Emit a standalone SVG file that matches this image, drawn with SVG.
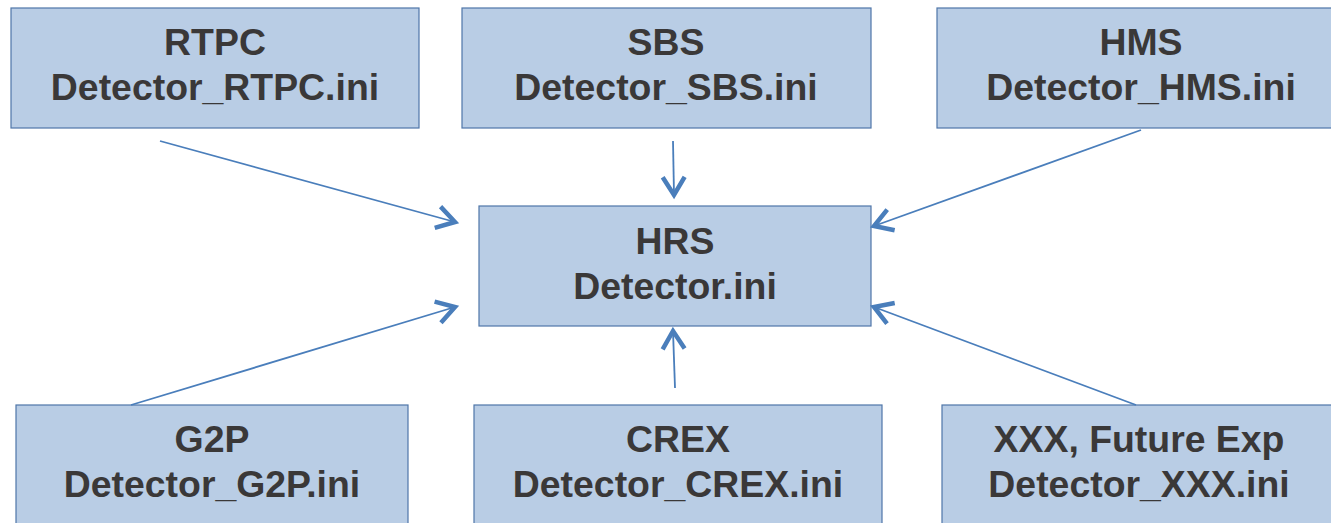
<svg xmlns="http://www.w3.org/2000/svg" width="1331" height="523" viewBox="0 0 1331 523">
<defs>
<style>
.box{fill:#b9cde5;stroke:#4f76a8;stroke-width:1.2}
.t{font-family:"Liberation Sans",Arial,sans-serif;font-weight:bold;font-size:37.4px;fill:#3a3838;text-anchor:middle}
.c{stroke:#4a7ebb;stroke-width:1.8;fill:none;marker-end:url(#ah)}
</style>
<marker id="ah" markerUnits="userSpaceOnUse" markerWidth="30" markerHeight="30" refX="0" refY="0" viewBox="-24 -15 28 30" orient="auto" overflow="visible">
<path d="M-18,-11 L0,0 L-18,11" fill="none" stroke="#4a7ebb" stroke-width="4.5"/>
</marker>
</defs>
<rect width="1331" height="523" fill="#fff"/>
<g id="rtpc"><rect class="box" x="11" y="8" width="408" height="120"/><text class="t" x="215" y="55">RTPC</text><text class="t" x="215" y="100">Detector_RTPC.ini</text></g>
<g id="sbs"><rect class="box" x="462" y="8" width="409" height="120"/><text class="t" x="666" y="55">SBS</text><text class="t" x="666" y="100">Detector_SBS.ini</text></g>
<g id="hms"><rect class="box" x="937" y="8" width="408" height="120"/><text class="t" x="1141" y="55">HMS</text><text class="t" x="1141" y="100">Detector_HMS.ini</text></g>
<g id="hrs"><rect class="box" x="479" y="206" width="392" height="120"/><text class="t" x="675" y="254">HRS</text><text class="t" x="675" y="299">Detector.ini</text></g>
<g id="g2p"><rect class="box" x="16" y="405" width="392" height="125"/><text class="t" x="212" y="452">G2P</text><text class="t" x="212" y="497">Detector_G2P.ini</text></g>
<g id="crex"><rect class="box" x="474" y="405" width="408" height="125"/><text class="t" x="678" y="452">CREX</text><text class="t" x="678" y="497">Detector_CREX.ini</text></g>
<g id="xxx"><rect class="box" x="942" y="405" width="395" height="125"/><text class="t" x="1139" y="452">XXX, Future Exp</text><text class="t" x="1139" y="497">Detector_XXX.ini</text></g>
<g id="connectors">
<line class="c" x1="160" y1="141" x2="455" y2="222"/>
<line class="c" x1="673" y1="141" x2="674" y2="195"/>
<line class="c" x1="1141" y1="130" x2="874" y2="226"/>
<line class="c" x1="131" y1="405" x2="455" y2="307"/>
<line class="c" x1="675" y1="388" x2="673" y2="331"/>
<line class="c" x1="1136" y1="405" x2="874" y2="307"/>
</g>
</svg>
